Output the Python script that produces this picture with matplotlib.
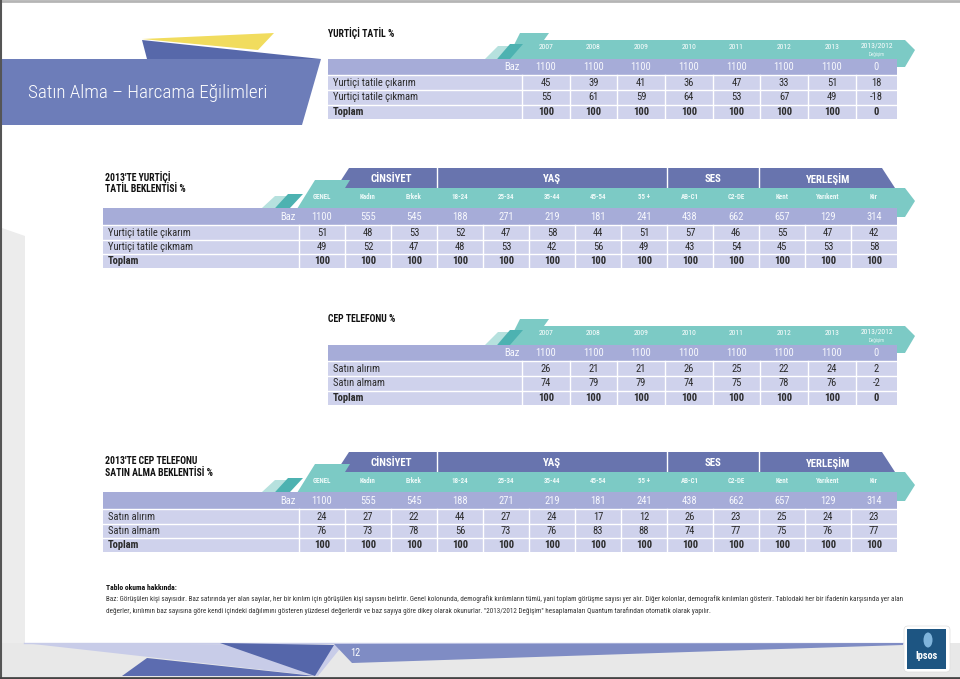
import matplotlib
matplotlib.use('Agg')
import matplotlib.pyplot as plt
from matplotlib.patches import Polygon, Rectangle, FancyBboxPatch, Ellipse
from matplotlib import font_manager

available = {f.name for f in font_manager.fontManager.ttflist}
cond = None
for name in ['Roboto Condensed', 'Liberation Sans Narrow', 'Open Sans Condensed', 'Noto Sans Condensed']:
    if name in available:
        cond = name
        break
FAM = [cond, 'DejaVu Sans'] if cond else ['Roboto', 'DejaVu Sans']
plt.rcParams['font.family'] = FAM

# ---------------- data ----------------
page_title = 'Satın Alma – Harcama Eğilimleri'
page_number = '12'
years = ['2007', '2008', '2009', '2010', '2011', '2012', '2013', '2013/2012']
change_sub = 'Değişim'
groups = ['CİNSİYET', 'YAŞ', 'SES', 'YERLEŞİM']
segments = ['GENEL', 'Kadın', 'Erkek', '18-24', '25-34', '35-44', '45-54', '55 +',
            'AB-C1', 'C2-DE', 'Kent', 'Yarıkent', 'Kır']

t1_title = 'YURTİÇİ TATİL %'
t1_labels = ['Yurtiçi tatile çıkarım', 'Yurtiçi tatile çıkmam', 'Toplam']
t1_baz = [1100, 1100, 1100, 1100, 1100, 1100, 1100, 0]
t1_yes = [45, 39, 41, 36, 47, 33, 51, 18]
t1_no = [55, 61, 59, 64, 53, 67, 49, -18]
t1_total = [100, 100, 100, 100, 100, 100, 100, 0]

t2_title = ["2013'TE YURTİÇİ", 'TATİL BEKLENTİSİ %']
t2_labels = ['Yurtiçi tatile çıkarım', 'Yurtiçi tatile çıkmam', 'Toplam']
t2_baz = [1100, 555, 545, 188, 271, 219, 181, 241, 438, 662, 657, 129, 314]
t2_yes = [51, 48, 53, 52, 47, 58, 44, 51, 57, 46, 55, 47, 42]
t2_no = [49, 52, 47, 48, 53, 42, 56, 49, 43, 54, 45, 53, 58]
t2_total = [100, 100, 100, 100, 100, 100, 100, 100, 100, 100, 100, 100, 100]

t3_title = 'CEP TELEFONU %'
t3_labels = ['Satın alırım', 'Satın almam', 'Toplam']
t3_baz = [1100, 1100, 1100, 1100, 1100, 1100, 1100, 0]
t3_yes = [26, 21, 21, 26, 25, 22, 24, 2]
t3_no = [74, 79, 79, 74, 75, 78, 76, -2]
t3_total = [100, 100, 100, 100, 100, 100, 100, 0]

t4_title = ["2013'TE CEP TELEFONU", 'SATIN ALMA BEKLENTİSİ %']
t4_labels = ['Satın alırım', 'Satın almam', 'Toplam']
t4_baz = [1100, 555, 545, 188, 271, 219, 181, 241, 438, 662, 657, 129, 314]
t4_yes = [24, 27, 22, 44, 27, 24, 17, 12, 26, 23, 25, 24, 23]
t4_no = [76, 73, 78, 56, 73, 76, 83, 88, 74, 77, 75, 76, 77]
t4_total = [100, 100, 100, 100, 100, 100, 100, 100, 100, 100, 100, 100, 100]

foot_title = 'Tablo okuma hakkında:'
foot_lines = [
    'Baz: Görüşülen kişi sayısıdır. Baz satırında yer alan sayılar, her bir kırılım için görüşülen kişi sayısını belirtir. '
    'Genel kolonunda, demografik kırılımların tümü, yani toplam görüşme sayısı yer alır. Diğer kolonlar, demografik kırılımları gösterir. '
    'Tablodaki her bir ifadenin karşısında yer alan',
    'değerler, kırılımın baz sayısına göre kendi içindeki dağılımını gösteren yüzdesel değerlerdir ve baz sayıya göre dikey olarak okunurlar. '
    '"2013/2012 Değişim" hesaplamaları Quantum tarafından otomatik olarak yapılır.',
]

# ---------------- style ----------------
TEAL = '#7ccac5'
TEAL_D = '#4db2b1'
TEAL_L = '#b6e1de'
NAVY = '#6874ae'
BAZ = '#a6acd8'
ROW = '#cfd2ec'
TXT = '#2b2b2b'
BAZTXT = '#f7f8fd'
FS = 7.6

W, H = 960, 679
fig = plt.figure(figsize=(W / 100, H / 100), dpi=100)
ax = fig.add_axes([0, 0, 1, 1])
ax.set_xlim(0, W)
ax.set_ylim(H, 0)
ax.axis('off')
renderer = fig.canvas.get_renderer()


def poly(pts, color, z=1):
    ax.add_patch(Polygon(pts, closed=True, facecolor=color, edgecolor='none', zorder=z))


def rect(x0, y0, x1, y1, color, z=2):
    ax.add_patch(Rectangle((x0, y0), x1 - x0, y1 - y0, facecolor=color, edgecolor='none', zorder=z))


def fit(t, width):
    bb = t.get_window_extent(renderer)
    t.set_fontsize(t.get_fontsize() * width / bb.width)


# ---------------- page background ----------------
poly([(2, 228), (25, 236), (25, 645), (2, 645)], '#ececec', 0)
rect(0, 643, W, 677, '#e8e8e8', 0)
ax.plot([0, W], [1, 1], color='#b5b5b5', lw=2, zorder=5)
ax.plot([1, 1], [0, H], color='#555555', lw=1.5, zorder=5)
ax.plot([0, W], [677.5, 677.5], color='#444444', lw=2, zorder=5)

# title banner
poly([(142, 39), (274, 33), (258, 50)], '#f1dc5e', 1)
poly([(142, 40), (321, 59), (147, 59)], '#5768aa', 1)
poly([(2, 59), (321, 59), (302, 125), (2, 125)], '#6d7db9', 2)
tt = ax.text(28, 93, page_title, color='white', fontsize=18, fontweight='light',
             va='center', ha='left', zorder=3)
fit(tt, 240)

# bottom decoration
ax.plot([24, 903], [643, 643], color='#c8cce8', lw=1, zorder=1)
poly([(24, 643), (343, 645), (318, 676)], '#c8cce8', 1)
poly([(220, 643), (334, 645), (315, 676)], '#5566aa', 2)
poly([(122, 676), (147, 658), (315, 676)], '#5c6cb0', 2)
poly([(334, 644), (903, 643), (903, 645), (352, 663)], '#7f8cc4', 2)
ax.text(350, 653, page_number, color='white', fontsize=7.5, va='center', ha='left', zorder=3)

# Ipsos logo
ax.add_patch(FancyBboxPatch((904, 626), 46, 46, boxstyle='round,pad=0,rounding_size=4',
                            facecolor='white', edgecolor='#dddddd', lw=0.5, zorder=3))
rect(907, 629, 946, 669, '#1d5582', 4)
ax.add_patch(Ellipse((928, 640), 9, 15, facecolor='#7fb4dc', edgecolor='none', zorder=5))
ax.text(926.5, 656, 'Ipsos', color='white', fontsize=7.5, fontweight='bold', ha='center', va='center', zorder=6)


# ---------------- trend tables ----------------
def trend_table(dy, title, labels, baz, yes, no, total):
    edges = [522, 570, 617, 665, 713, 760, 808, 856, 897]
    centers = [(a + b) / 2 for a, b in zip(edges[:-1], edges[1:])]
    ax.text(328, 33 + dy, title, fontsize=7, fontweight='bold', color='#111111', va='center', ha='left', zorder=4)
    # teal header
    poly([(485, 59 + dy), (498, 46 + dy), (510, 46 + dy), (497, 59 + dy)], TEAL_L, 2)
    poly([(503, 67 + dy), (520, 33 + dy), (549, 33 + dy), (544, 40 + dy), (905, 40 + dy),
          (915, 50 + dy), (905, 67 + dy)], TEAL, 2)
    poly([(497, 59 + dy), (510, 44 + dy), (523, 44 + dy), (510, 59 + dy)], TEAL_D, 3)
    for c, y in zip(centers, years):
        if '/' in y:
            ax.text(c, 46 + dy, y, fontsize=5.5, color='white', ha='center', va='center', zorder=4)
            ax.text(c, 54.5 + dy, change_sub, fontsize=3.6, color='#e8f6f5', ha='center', va='center', zorder=4)
        else:
            ax.text(c, 47 + dy, y, fontsize=5.5, color='white', ha='center', va='center', zorder=4)
    # rows
    rect(328, 59 + dy, 897, 75 + dy, BAZ, 3)
    ax.text(520, 67 + dy, 'Baz', fontsize=FS, color=BAZTXT, ha='right', va='center', zorder=4)
    for c, v in zip(centers, baz):
        ax.text(c, 67 + dy, str(v), fontsize=FS, color=BAZTXT, ha='center', va='center', zorder=4)
    bounds = [(75, 90), (90, 105), (105, 119)]
    for (y0, y1), lab, vals in zip(bounds, labels, [yes, no, total]):
        rect(328, y0 + dy, 897, y1 + dy, ROW, 3)
        bold = lab == labels[-1]
        ym = (y0 + y1) / 2 + dy
        ax.text(333, ym, lab, fontsize=FS, color=TXT, ha='left', va='center', zorder=4,
                fontweight='bold' if bold else 'normal')
        for c, v in zip(centers, vals):
            ax.text(c, ym, str(v), fontsize=FS, color=TXT, ha='center', va='center', zorder=4,
                    fontweight='bold' if bold else 'normal')
    for y in [75, 90, 105]:
        ax.plot([328, 897], [y + dy, y + dy], color='white', lw=1, zorder=4)
    for x in edges[:-1]:
        ax.plot([x, x], [75 + dy, 119 + dy], color='white', lw=1, zorder=4)


# ---------------- demographic tables ----------------
def demo_table(dy, title, labels, baz, yes, no, total):
    edges = [299 + 46 * i for i in range(14)]
    centers = [(a + b) / 2 for a, b in zip(edges[:-1], edges[1:])]
    ax.text(105, 177 + dy, title[0], fontsize=7, fontweight='bold', color='#111111', va='center', ha='left', zorder=4)
    ax.text(105, 189 + dy, title[1], fontsize=7, fontweight='bold', color='#111111', va='center', ha='left', zorder=4)
    # navy group header
    poly([(336, 188 + dy), (349, 168 + dy), (882, 168 + dy), (895, 188 + dy)], NAVY, 2)
    spans = [(edges[1], edges[3]), (edges[3], edges[8]), (edges[8], edges[10]), (edges[10], edges[13])]
    for (a, b), g in zip(spans, groups):
        ax.text((a + b) / 2, 179 + dy, g, fontsize=7.8, fontweight='bold', color='white', ha='center', va='center', zorder=4)
    for a, b in spans[1:]:
        ax.plot([a, a], [168 + dy, 188 + dy], color='white', lw=1, zorder=3)
    # teal sub header
    poly([(262, 208 + dy), (275, 196 + dy), (288, 196 + dy), (275, 208 + dy)], TEAL_L, 2)
    poly([(292, 217 + dy), (315, 180 + dy), (350, 180 + dy), (345, 188 + dy), (905, 188 + dy),
          (915, 201 + dy), (905, 217 + dy)], TEAL, 3)
    poly([(275, 208 + dy), (288, 194 + dy), (303, 194 + dy), (290, 208 + dy)], TEAL_D, 3)
    for c, s in zip(centers, segments):
        ax.text(c, 197 + dy, s, fontsize=5, fontweight='bold', color='#eefaf9', ha='center', va='center', zorder=4)
    # rows
    rect(103, 208 + dy, 897, 225 + dy, BAZ, 3)
    ax.text(296, 216.5 + dy, 'Baz', fontsize=FS, color=BAZTXT, ha='right', va='center', zorder=4)
    for c, v in zip(centers, baz):
        ax.text(c, 216.5 + dy, str(v), fontsize=FS, color=BAZTXT, ha='center', va='center', zorder=4)
    bounds = [(225, 240), (240, 254), (254, 268)]
    for (y0, y1), lab, vals in zip(bounds, labels, [yes, no, total]):
        rect(103, y0 + dy, 897, y1 + dy, ROW, 3)
        bold = lab == labels[-1]
        ym = (y0 + y1) / 2 + dy
        ax.text(108, ym, lab, fontsize=FS, color=TXT, ha='left', va='center', zorder=4,
                fontweight='bold' if bold else 'normal')
        for c, v in zip(centers, vals):
            ax.text(c, ym, str(v), fontsize=FS, color=TXT, ha='center', va='center', zorder=4,
                    fontweight='bold' if bold else 'normal')
    for y in [225, 240, 254]:
        ax.plot([103, 897], [y + dy, y + dy], color='white', lw=1, zorder=4)
    for x in edges[:-1]:
        ax.plot([x, x], [225 + dy, 268 + dy], color='white', lw=1, zorder=4)


trend_table(0, t1_title, t1_labels, t1_baz, t1_yes, t1_no, t1_total)
demo_table(0, t2_title, t2_labels, t2_baz, t2_yes, t2_no, t2_total)
trend_table(286, t3_title, t3_labels, t3_baz, t3_yes, t3_no, t3_total)
demo_table(284, t4_title, t4_labels, t4_baz, t4_yes, t4_no, t4_total)

# ---------------- footer ----------------
ax.text(106, 587, foot_title, fontsize=5.5, fontweight='bold', color='#111111', ha='left', va='center', zorder=4)
f1 = ax.text(106, 599.5, foot_lines[0], fontsize=5, color='#333333', ha='left', va='center', zorder=4)
fit(f1, 806)
ax.text(106, 611, foot_lines[1], fontsize=f1.get_fontsize(), color='#333333', ha='left', va='center', zorder=4)

fig.savefig('out.png', dpi=100, facecolor='white')
